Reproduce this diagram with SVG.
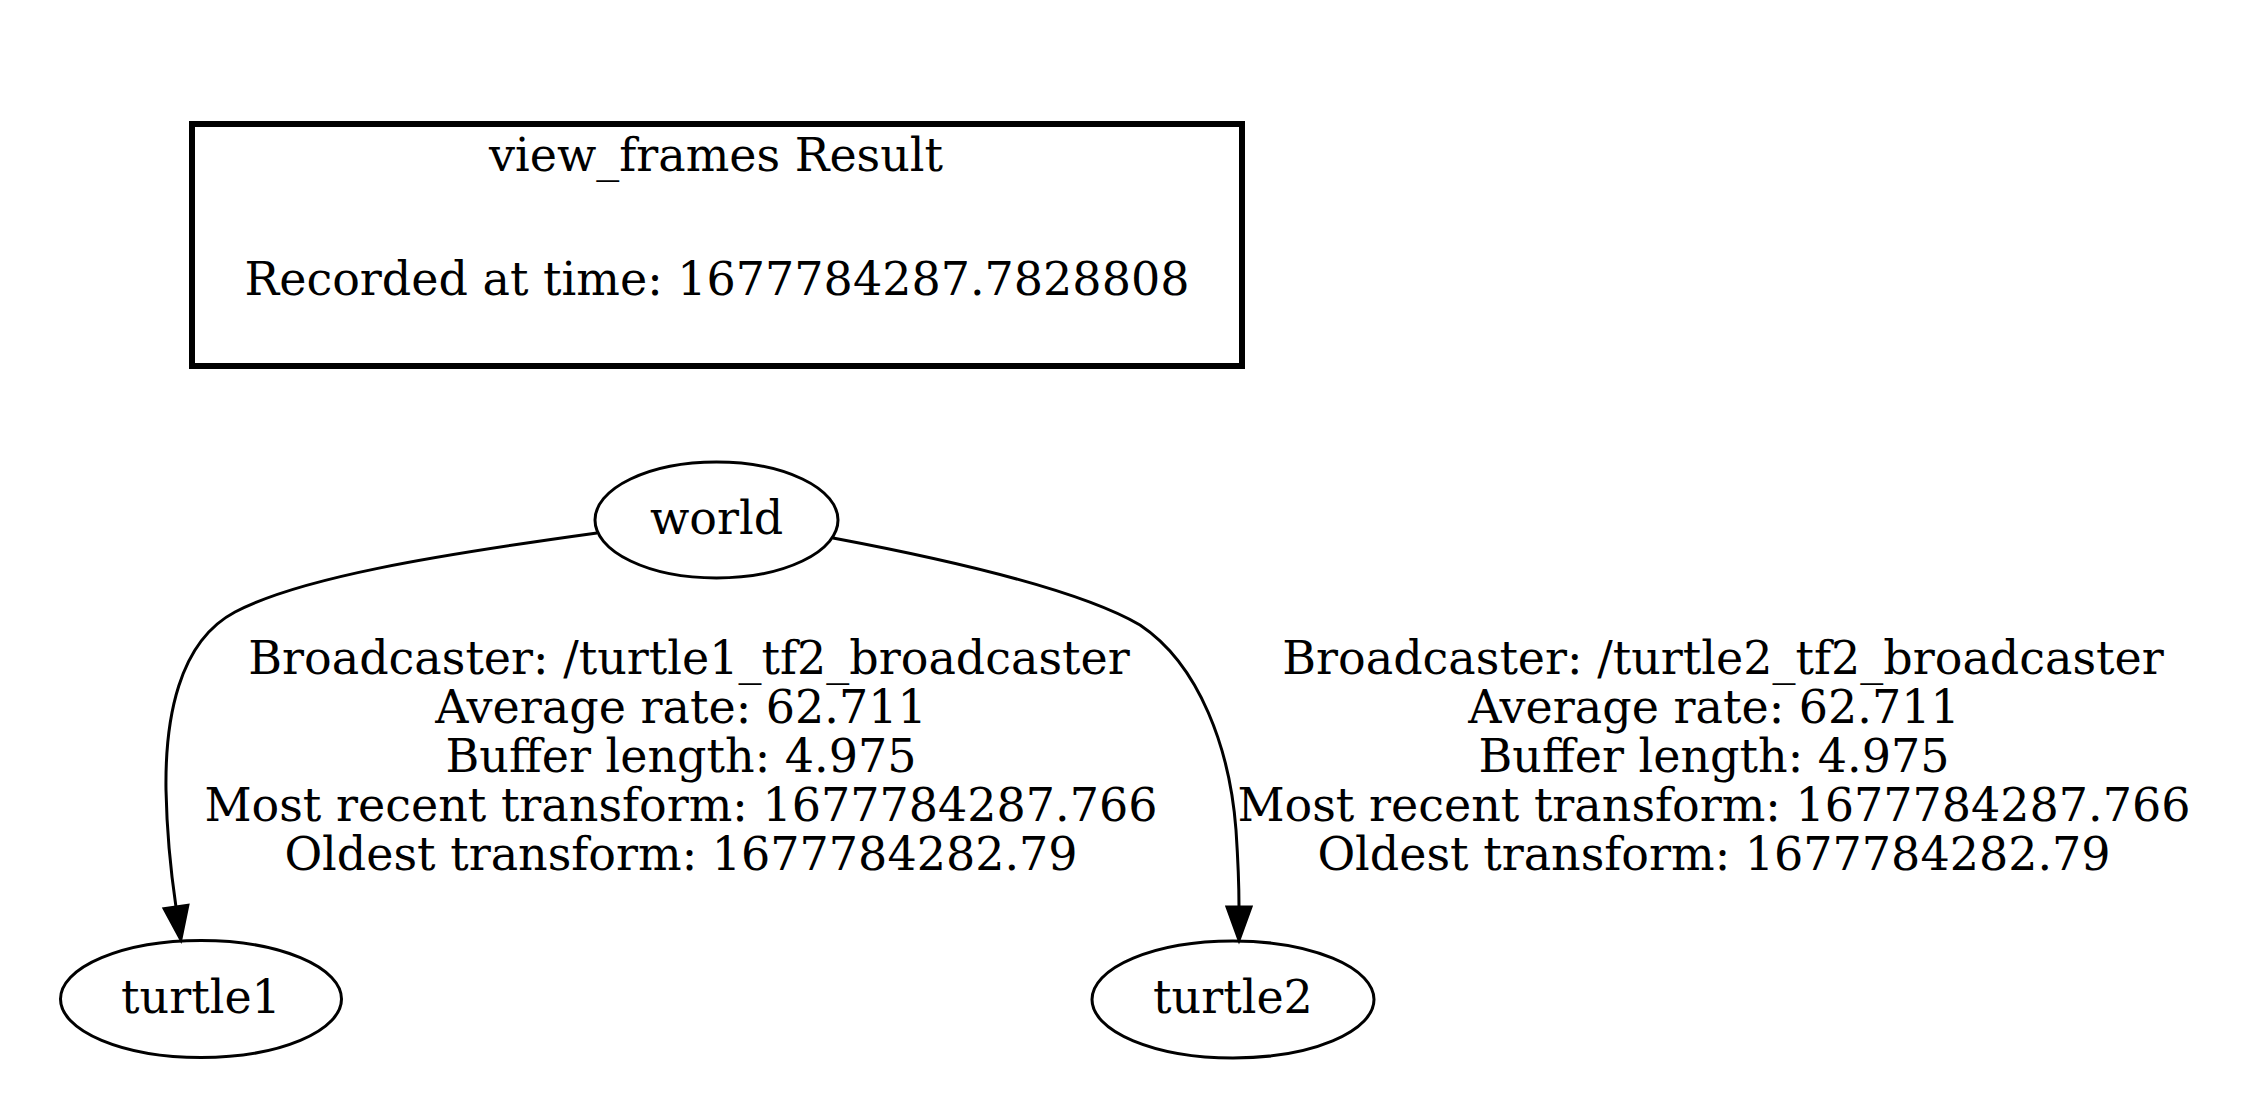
<svg xmlns="http://www.w3.org/2000/svg" width="2250" height="1106" viewBox="0 0 2250 1106">
<style>
text{font-family:"DejaVu Serif","Liberation Serif",serif;font-size:46px;fill:#000;text-anchor:middle}
.node ellipse{fill:none;stroke:#000;stroke-width:3}
.edge{fill:none;stroke:#000;stroke-width:3}
</style>
<defs>
<marker id="arr" markerUnits="userSpaceOnUse" markerWidth="40" markerHeight="30" refX="0" refY="12" orient="auto" viewBox="0 0 40 30" overflow="visible">
<path d="M0,0 L33,12 L0,24 Z" fill="#000" stroke="#000" stroke-width="3"/>
</marker>
</defs>
<rect width="2250" height="1106" fill="#fff"/>
<g id="title">
<rect x="192" y="124" width="1050" height="242" fill="none" stroke="#000" stroke-width="6"/>
<text x="716" y="171">view_frames Result</text>
<text x="717" y="295">Recorded at time: 1677784287.7828808</text>
</g>
<g id="connectors">
<g id="e_world_turtle1">
<path class="edge" d="M597,533 C430,556 300,578 235,612 C178,642 165,720 166,790 C167,840 172,880 176,907" marker-end="url(#arr)"/>
<text x="689" y="674">Broadcaster: /turtle1_tf2_broadcaster</text>
<text x="681" y="723">Average rate: 62.711</text>
<text x="681" y="772">Buffer length: 4.975</text>
<text x="681" y="821">Most recent transform: 1677784287.766</text>
<text x="681" y="870">Oldest transform: 1677784282.79</text>
</g>
<g id="e_world_turtle2">
<path class="edge" d="M833,538 C950,560 1080,590 1140,625 C1200,665 1230,750 1236,830 C1238,860 1239,885 1239,907" marker-end="url(#arr)"/>
<text x="1723" y="674">Broadcaster: /turtle2_tf2_broadcaster</text>
<text x="1714" y="723">Average rate: 62.711</text>
<text x="1714" y="772">Buffer length: 4.975</text>
<text x="1714" y="821">Most recent transform: 1677784287.766</text>
<text x="1714" y="870">Oldest transform: 1677784282.79</text>
</g>
</g>
<g id="world" class="node">
<ellipse cx="716.5" cy="520" rx="121.5" ry="58"/>
<text x="716.5" y="534">world</text>
</g>
<g id="turtle1" class="node">
<ellipse cx="201" cy="999" rx="140.5" ry="58.5"/>
<text x="201" y="1013">turtle1</text>
</g>
<g id="turtle2" class="node">
<ellipse cx="1233" cy="999.5" rx="141" ry="58.5"/>
<text x="1233" y="1013">turtle2</text>
</g>
</svg>
